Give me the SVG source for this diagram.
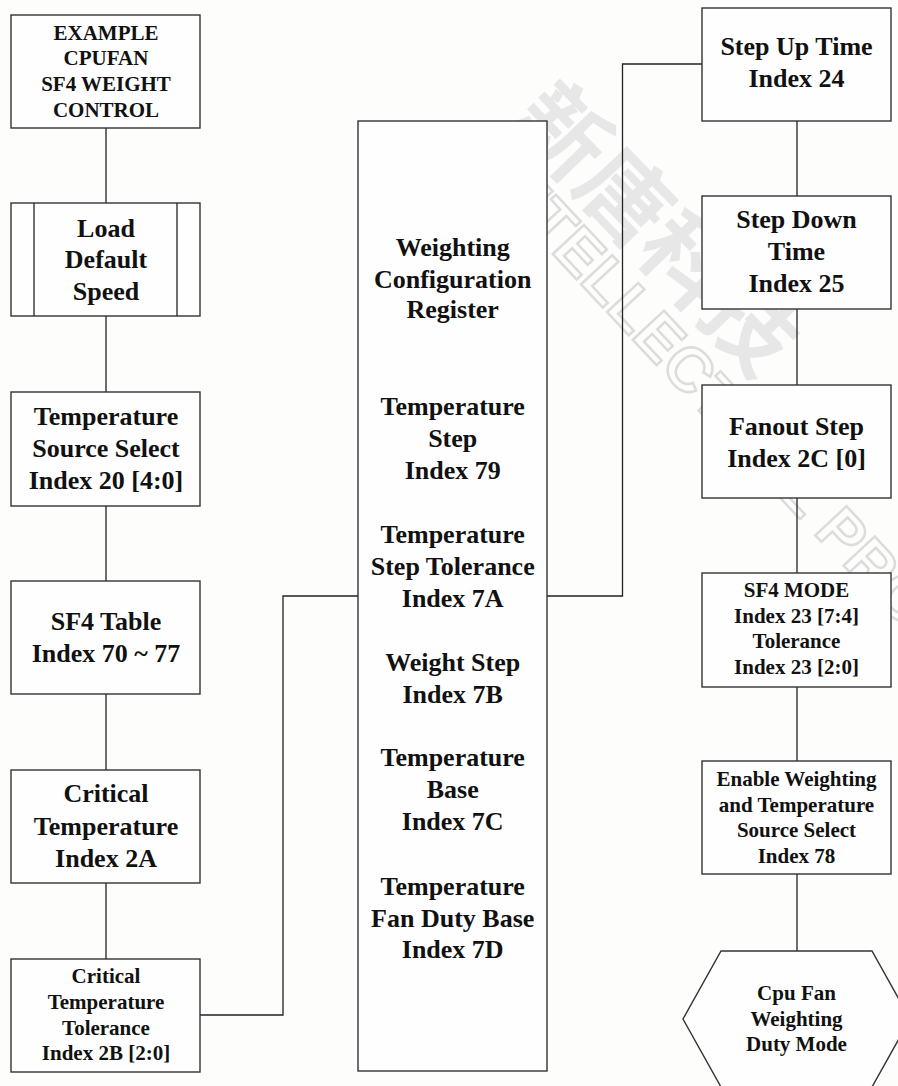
<svg xmlns="http://www.w3.org/2000/svg" width="898" height="1086" viewBox="0 0 898 1086">
<style>
.bx{fill:#fefefe;stroke:#333;stroke-width:1.4}
.ln{fill:none;stroke:#222;stroke-width:1.3}
.t{font-family:"Liberation Serif","Times New Roman",serif;font-weight:bold;fill:#111;text-anchor:middle}
.L{font-size:26px}
.S{font-size:21px}
.wm{font-family:"Noto Sans CJK TC","Noto Sans CJK SC",sans-serif;font-weight:bold;font-size:90px;fill:#e7e7e7}
.wm2{font-family:"Liberation Sans",Arial,sans-serif;font-weight:bold;font-size:62px;fill:none;stroke:#dcdcdc;stroke-width:2.5}
</style>
<rect x="0" y="0" width="898" height="1086" fill="#fdfdfc"/>
<g id="watermark">
<text class="wm" transform="translate(508,122) rotate(46)">新唐科技</text>
<text class="wm2" transform="translate(482,178) rotate(47)">INTELLECTUAL PROPERTY</text>
</g>
<g id="connectors" class="ln">
<line x1="106" y1="128" x2="106" y2="203"/>
<line x1="106" y1="316" x2="106" y2="392"/>
<line x1="106" y1="506" x2="106" y2="581"/>
<line x1="106" y1="694" x2="106" y2="770"/>
<line x1="106" y1="883" x2="106" y2="959"/>
<polyline points="200,1015 283,1015 283,596 358,596"/>
<polyline points="547,596 622.5,596 622.5,64 702,64"/>
<line x1="797" y1="121" x2="797" y2="196"/>
<line x1="797" y1="309" x2="797" y2="385"/>
<line x1="797" y1="498" x2="797" y2="573"/>
<line x1="797" y1="687" x2="797" y2="761"/>
<line x1="797" y1="874" x2="797" y2="951"/>
</g>
<g id="n1"><rect class="bx" x="11" y="15" width="189" height="113"/>
<text class="t S" x="106" y="39.5">EXAMPLE</text><text class="t S" x="106" y="65">CPUFAN</text><text class="t S" x="106" y="90.7">SF4 WEIGHT</text><text class="t S" x="106" y="116.5">CONTROL</text></g>
<g id="n2"><rect class="bx" x="11" y="203" width="189" height="113"/>
<line class="ln" x1="34" y1="203" x2="34" y2="316"/><line class="ln" x1="177" y1="203" x2="177" y2="316"/>
<text class="t L" x="106" y="236.7">Load</text><text class="t L" x="106" y="268.3">Default</text><text class="t L" x="106" y="300">Speed</text></g>
<g id="n3"><rect class="bx" x="11" y="392" width="189" height="114"/>
<text class="t L" x="106" y="425">Temperature</text><text class="t L" x="106" y="457.3">Source Select</text><text class="t L" x="106" y="489">Index 20 [4:0]</text></g>
<g id="n4"><rect class="bx" x="11" y="581" width="189" height="113"/>
<text class="t L" x="106" y="630">SF4 Table</text><text class="t L" x="106" y="661.7">Index 70 ~ 77</text></g>
<g id="n5"><rect class="bx" x="11" y="770" width="189" height="113"/>
<text class="t L" x="106" y="802">Critical</text><text class="t L" x="106" y="834.5">Temperature</text><text class="t L" x="106" y="866.7">Index 2A</text></g>
<g id="n6"><rect class="bx" x="11" y="959" width="189" height="113"/>
<text class="t S" x="106" y="983.3">Critical</text><text class="t S" x="106" y="1008.8">Temperature</text><text class="t S" x="106" y="1034.5">Tolerance</text><text class="t S" x="106" y="1060">Index 2B [2:0]</text></g>
<g id="n7"><rect class="bx" x="358" y="121" width="189" height="950"/>
<text class="t L" x="452.7" y="256">Weighting</text><text class="t L" x="452.7" y="287.7">Configuration</text><text class="t L" x="452.7" y="318.3">Register</text>
<text class="t L" x="452.7" y="415">Temperature</text><text class="t L" x="452.7" y="446.7">Step</text><text class="t L" x="452.7" y="479">Index 79</text>
<text class="t L" x="452.7" y="543.3">Temperature</text><text class="t L" x="452.7" y="575">Step Tolerance</text><text class="t L" x="452.7" y="606.7">Index 7A</text>
<text class="t L" x="452.7" y="670.7">Weight Step</text><text class="t L" x="452.7" y="703.3">Index 7B</text>
<text class="t L" x="452.7" y="765.7">Temperature</text><text class="t L" x="452.7" y="798.3">Base</text><text class="t L" x="452.7" y="830">Index 7C</text>
<text class="t L" x="452.7" y="895">Temperature</text><text class="t L" x="452.7" y="926.7">Fan Duty Base</text><text class="t L" x="452.7" y="958.3">Index 7D</text></g>
<g id="n8"><rect class="bx" x="702" y="8" width="189" height="113"/>
<text class="t L" x="796.5" y="55.4">Step Up Time</text><text class="t L" x="796.5" y="87">Index 24</text></g>
<g id="n9"><rect class="bx" x="702" y="196" width="189" height="113"/>
<text class="t L" x="796.5" y="228.3">Step Down</text><text class="t L" x="796.5" y="260">Time</text><text class="t L" x="796.5" y="291.7">Index 25</text></g>
<g id="n10"><rect class="bx" x="702" y="385" width="189" height="113"/>
<text class="t L" x="796.5" y="435">Fanout Step</text><text class="t L" x="796.5" y="466.7">Index 2C [0]</text></g>
<g id="n11"><rect class="bx" x="702" y="573" width="189" height="114"/>
<text class="t S" x="796.5" y="597">SF4 MODE</text><text class="t S" x="796.5" y="622.5">Index 23 [7:4]</text><text class="t S" x="796.5" y="648">Tolerance</text><text class="t S" x="796.5" y="673.5">Index 23 [2:0]</text></g>
<g id="n12"><rect class="bx" x="702" y="761" width="189" height="113"/>
<text class="t S" x="796.5" y="786">Enable Weighting</text><text class="t S" x="796.5" y="811.5">and Temperature</text><text class="t S" x="796.5" y="837">Source Select</text><text class="t S" x="796.5" y="862.5">Index 78</text></g>
<g id="n13"><polygon class="bx" points="721,951 872,951 910,1019 872,1087 721,1087 683,1019"/>
<text class="t S" x="796.5" y="1000">Cpu Fan</text><text class="t S" x="796.5" y="1025.5">Weighting</text><text class="t S" x="796.5" y="1051">Duty Mode</text></g>
</svg>
